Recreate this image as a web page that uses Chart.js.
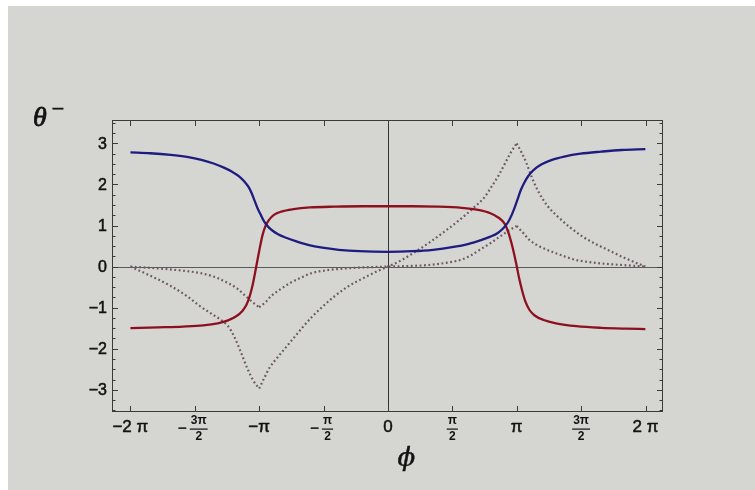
<!DOCTYPE html>
<html lang="en">
<head>
<meta charset="UTF-8">
<title>theta minus against phi</title>
<script src="https://cdn.jsdelivr.net/npm/chart.js"></script>
<style>
  html, body { margin: 0; padding: 0; background: #d4d5d1; }
  canvas { display: block; }
</style>
</head>
<body>
<canvas id="thetaChart" width="755" height="490"></canvas>
<script>
// values, phi in radians
const blueX = [-6.28, -5.8, -5.3, -4.9, -4.55, -4.25, -4.0, -3.8, -3.63, -3.5, -3.4, -3.32, -3.25, -3.18, -3.1,
               -3.02, -2.93, -2.82, -2.68, -2.5, -2.25, -1.95, -1.6, -1.2, -0.7, 0,
               0.6, 1.1, 1.6, 1.95, 2.25, 2.5, 2.68, 2.82, 2.93, 3.02, 3.1, 3.17, 3.24, 3.32, 3.42, 3.55,
               3.75, 4.0, 4.3, 4.7, 5.2, 5.7, 6.28];
const blueY = [2.78, 2.76, 2.72, 2.67, 2.60, 2.51, 2.41, 2.31, 2.20, 2.07, 1.94, 1.78, 1.60, 1.42, 1.26,
               1.10, 0.98, 0.88, 0.79, 0.71, 0.62, 0.53, 0.46, 0.41, 0.375, 0.36,
               0.375, 0.41, 0.48, 0.55, 0.64, 0.73, 0.82, 0.94, 1.08, 1.26, 1.46, 1.66, 1.86, 2.03, 2.20, 2.35,
               2.49, 2.60, 2.68, 2.75, 2.80, 2.84, 2.86];

const redX = [-6.28, -5.6, -5.0, -4.5, -4.15, -3.9, -3.7, -3.55, -3.45, -3.37, -3.3, -3.24, -3.18, -3.12, -3.06,
              -2.99, -2.9, -2.78, -2.6, -2.3, -1.9, -1.3, -0.6, 0,
              0.6, 1.2, 1.8, 2.2, 2.5, 2.7, 2.85, 2.95, 3.02, 3.08, 3.14, 3.2, 3.27, 3.35, 3.45, 3.58,
              3.8, 4.1, 4.6, 5.2, 5.8, 6.28];
const redY = [-1.50, -1.48, -1.46, -1.43, -1.38, -1.31, -1.21, -1.08, -0.93, -0.72, -0.45, -0.15, 0.17, 0.48, 0.76,
              0.98, 1.14, 1.26, 1.34, 1.40, 1.44, 1.46, 1.47, 1.47,
              1.47, 1.46, 1.43, 1.38, 1.30, 1.19, 1.04, 0.80, 0.55, 0.30, 0.02, -0.28, -0.57, -0.84, -1.05, -1.19,
              -1.30, -1.38, -1.45, -1.49, -1.51, -1.52];

// dotted curves, cusps at -pi and pi
const dotBigX = [-6.28, -5.8, -5.3, -4.9, -4.6, -4.3, -4.1, -3.9, -3.75, -3.6, -3.42, -3.28, -3.14,
                 -3.02, -2.88, -2.7, -2.5, -2.3, -2.1, -1.85, -1.6, -1.3, -1.0, -0.6, -0.3, 0,
                 0.3, 0.62, 1.0, 1.43, 1.8, 2.12, 2.35, 2.53, 2.7, 2.86, 3.0, 3.14,
                 3.26, 3.38, 3.52, 3.69, 3.9, 4.14, 4.45, 4.75, 5.05, 5.36, 5.8, 6.28];
const dotBigY = [0, -0.22, -0.47, -0.72, -0.95, -1.15, -1.28, -1.45, -1.7, -2.05, -2.5, -2.78, -2.97,
                 -2.72, -2.45, -2.22, -1.98, -1.74, -1.5, -1.22, -0.98, -0.72, -0.5, -0.28, -0.13, 0,
                 0.14, 0.33, 0.58, 0.89, 1.18, 1.46, 1.68, 1.95, 2.22, 2.52, 2.78, 3.0,
                 2.78, 2.52, 2.15, 1.79, 1.47, 1.22, 0.95, 0.73, 0.56, 0.41, 0.2, 0];

const dotSmallX = [-6.28, -5.8, -5.4, -5.0, -4.57, -4.2, -3.9, -3.68, -3.5, -3.32, -3.14,
                   -2.98, -2.85, -2.62, -2.37, -2.1, -1.87, -1.5, -1.1, -0.6, 0,
                   0.5, 1.0, 1.4, 1.76, 2.0, 2.24, 2.5, 2.73, 2.95, 3.14,
                   3.3, 3.45, 3.7, 4.0, 4.25, 4.55, 5.0, 5.4, 5.85, 6.28];
const dotSmallY = [0, -0.03, -0.06, -0.1, -0.16, -0.26, -0.40, -0.53, -0.69, -0.85, -0.99,
                   -0.86, -0.72, -0.55, -0.39, -0.26, -0.16, -0.09, -0.05, -0.02, 0,
                   0.015, 0.04, 0.09, 0.16, 0.26, 0.41, 0.57, 0.73, 0.88, 0.99,
                   0.82, 0.65, 0.49, 0.36, 0.27, 0.17, 0.1, 0.06, 0.03, 0];

// ticks
const xTickMultiples = [-2, -1.5, -1, -0.5, 0, 0.5, 1, 1.5, 2]; // times pi
const xTickLabels = ['−2 π', '−3π/2', '−π', '−π/2', '0', 'π/2', 'π', '3π/2', '2 π'];
const yTickValues = [-3, -2, -1, 0, 1, 2, 3];
const yTickLabels = ['−3', '−2', '−1', '0', '1', '2', '3'];

function pts(xs, ys) {
  return xs.map((x, i) => ({ x: x, y: ys[i] }));
}

// split at the cusps so monotone interpolation keeps them sharp
function splitAtCusps(xs, ys) {
  const pieces = [];
  let cur = [];
  xs.forEach((x, i) => {
    cur.push({ x: x, y: ys[i] });
    if (Math.abs(Math.abs(x) - 3.14) < 0.001) {
      pieces.push(cur);
      cur = [{ x: x, y: ys[i] }];
    }
  });
  pieces.push(cur);
  return pieces;
}

const dotColor = '#6c5963';
const dotted = [];
[splitAtCusps(dotBigX, dotBigY), splitAtCusps(dotSmallX, dotSmallY)].forEach(pieces => {
  pieces.forEach(p => dotted.push({
    data: p,
    borderColor: dotColor,
    borderWidth: 2.2,
    borderDash: [1.8, 2.6],
    cubicInterpolationMode: 'monotone',
    pointRadius: 0
  }));
});

function label(ctx, text, x, y) {
  ctx.strokeText(text, x, y);
  ctx.fillText(text, x, y);
}

const framePlugin = {
  id: 'framePlugin',
  beforeDraw(chart) {
    const ctx = chart.ctx;
    ctx.save();
    ctx.fillStyle = '#d5d6d2';
    ctx.fillRect(0, 0, chart.width, chart.height);
    ctx.fillStyle = '#ffffff';
    ctx.fillRect(0, 0, chart.width, 6);
    ctx.fillRect(0, 0, 8, chart.height);
    ctx.restore();
  },
  beforeDatasetsDraw(chart) {
    const { ctx, chartArea: a, scales: { x, y } } = chart;
    ctx.save();
    ctx.lineWidth = 1;
    ctx.strokeStyle = '#5a5a5a';
    const y0 = Math.round(y.getPixelForValue(0)) + 0.5;
    ctx.beginPath(); ctx.moveTo(a.left, y0); ctx.lineTo(a.right, y0); ctx.stroke();
    ctx.strokeStyle = '#333333';
    const x0 = Math.round(x.getPixelForValue(0)) + 0.5;
    ctx.beginPath(); ctx.moveTo(x0, a.top); ctx.lineTo(x0, a.bottom); ctx.stroke();
    ctx.restore();
  },
  afterDraw(chart) {
    const { ctx, chartArea: a, scales: { x, y } } = chart;
    ctx.save();
    ctx.strokeStyle = '#3a3a3a';
    ctx.lineWidth = 1;
    ctx.strokeRect(a.left + 0.5, a.top + 0.5, a.right - a.left - 1, a.bottom - a.top - 1);

    // inward ticks
    ctx.beginPath();
    for (let v = -3.5; v <= 3.5; v += 0.25) {
      const py = Math.round(y.getPixelForValue(v)) + 0.5;
      if (py < a.top || py > a.bottom) continue;
      const len = Number.isInteger(v) ? 6 : 3.5;
      ctx.moveTo(a.left, py); ctx.lineTo(a.left + len, py);
      ctx.moveTo(a.right, py); ctx.lineTo(a.right - len, py);
    }
    xTickMultiples.forEach(m => {
      const px = Math.round(x.getPixelForValue(m * Math.PI)) + 0.5;
      ctx.moveTo(px, a.bottom); ctx.lineTo(px, a.bottom - 6);
      ctx.moveTo(px, a.top); ctx.lineTo(px, a.top + 6);
    });
    ctx.stroke();

    // y labels
    ctx.fillStyle = '#111111';
    ctx.strokeStyle = '#111111';
    ctx.lineWidth = 0.5;
    ctx.font = '16px "Liberation Sans", Arial, sans-serif';
    ctx.textAlign = 'right';
    ctx.textBaseline = 'middle';
    yTickValues.forEach((v, i) => {
      label(ctx, yTickLabels[i], a.left - 5, y.getPixelForValue(v) + 1);
    });

    // x labels, fractions drawn stacked
    const ly = a.bottom + 17;
    xTickMultiples.forEach((m, i) => {
      const px = x.getPixelForValue(m * Math.PI);
      const lab = xTickLabels[i];
      if (lab.indexOf('/') < 0) {
        ctx.font = '17px "Liberation Sans", Arial, sans-serif';
        ctx.textAlign = 'center';
        ctx.textBaseline = 'middle';
        label(ctx, lab, px, ly - 2);
        return;
      }
      let sign = '';
      let body = lab;
      if (body[0] === '−') { sign = '−'; body = body.slice(1); }
      const [num, den] = body.split('/');
      ctx.font = 'bold 12px "Liberation Sans", Arial, sans-serif';
      const w = Math.max(ctx.measureText(num).width, ctx.measureText(den).width) + 2;
      const cx = sign ? px + 4 : px;
      ctx.textAlign = 'center';
      ctx.textBaseline = 'middle';
      ctx.fillText(num, cx, ly - 8);
      ctx.fillText(den, cx, ly + 8);
      ctx.fillRect(cx - w / 2, ly - 0.5, w, 1.2);
      if (sign) {
        ctx.font = '15px "Liberation Sans", Arial, sans-serif';
        ctx.textAlign = 'right';
        label(ctx, sign, cx - w / 2 - 3, ly);
      }
    });

    // axis titles
    ctx.fillStyle = '#121212';
    ctx.strokeStyle = '#121212';
    ctx.textAlign = 'center';
    ctx.textBaseline = 'middle';
    ctx.font = 'italic 28px "Liberation Serif", "DejaVu Serif", serif';
    ctx.lineWidth = 0.8;
    label(ctx, 'θ', 40, 119);
    ctx.font = '22px "Liberation Serif", "DejaVu Serif", serif';
    label(ctx, '−', 58, 110);
    ctx.font = 'italic 26px "DejaVu Serif", serif';
    ctx.lineWidth = 0.5;
    label(ctx, 'ϕ', x.getPixelForValue(0.45), 459);
    ctx.restore();
  }
};

new Chart(document.getElementById('thetaChart').getContext('2d'), {
  type: 'line',
  data: {
    datasets: [
      {
        data: pts(blueX, blueY),
        borderColor: '#1f1c80',
        borderWidth: 2.3,
        cubicInterpolationMode: 'monotone',
        pointRadius: 0
      },
      {
        data: pts(redX, redY),
        borderColor: '#8c1020',
        borderWidth: 2.3,
        cubicInterpolationMode: 'monotone',
        pointRadius: 0
      },
      ...dotted
    ]
  },
  options: {
    responsive: false,
    animation: false,
    events: [],
    layout: { padding: { left: 112, right: 92, top: 120, bottom: 78 } },
    plugins: { legend: { display: false }, tooltip: { enabled: false } },
    scales: {
      x: { type: 'linear', min: -6.73, max: 6.71, display: false },
      y: { type: 'linear', min: -3.54, max: 3.57, display: false }
    }
  },
  plugins: [framePlugin]
});
</script>
</body>
</html>
